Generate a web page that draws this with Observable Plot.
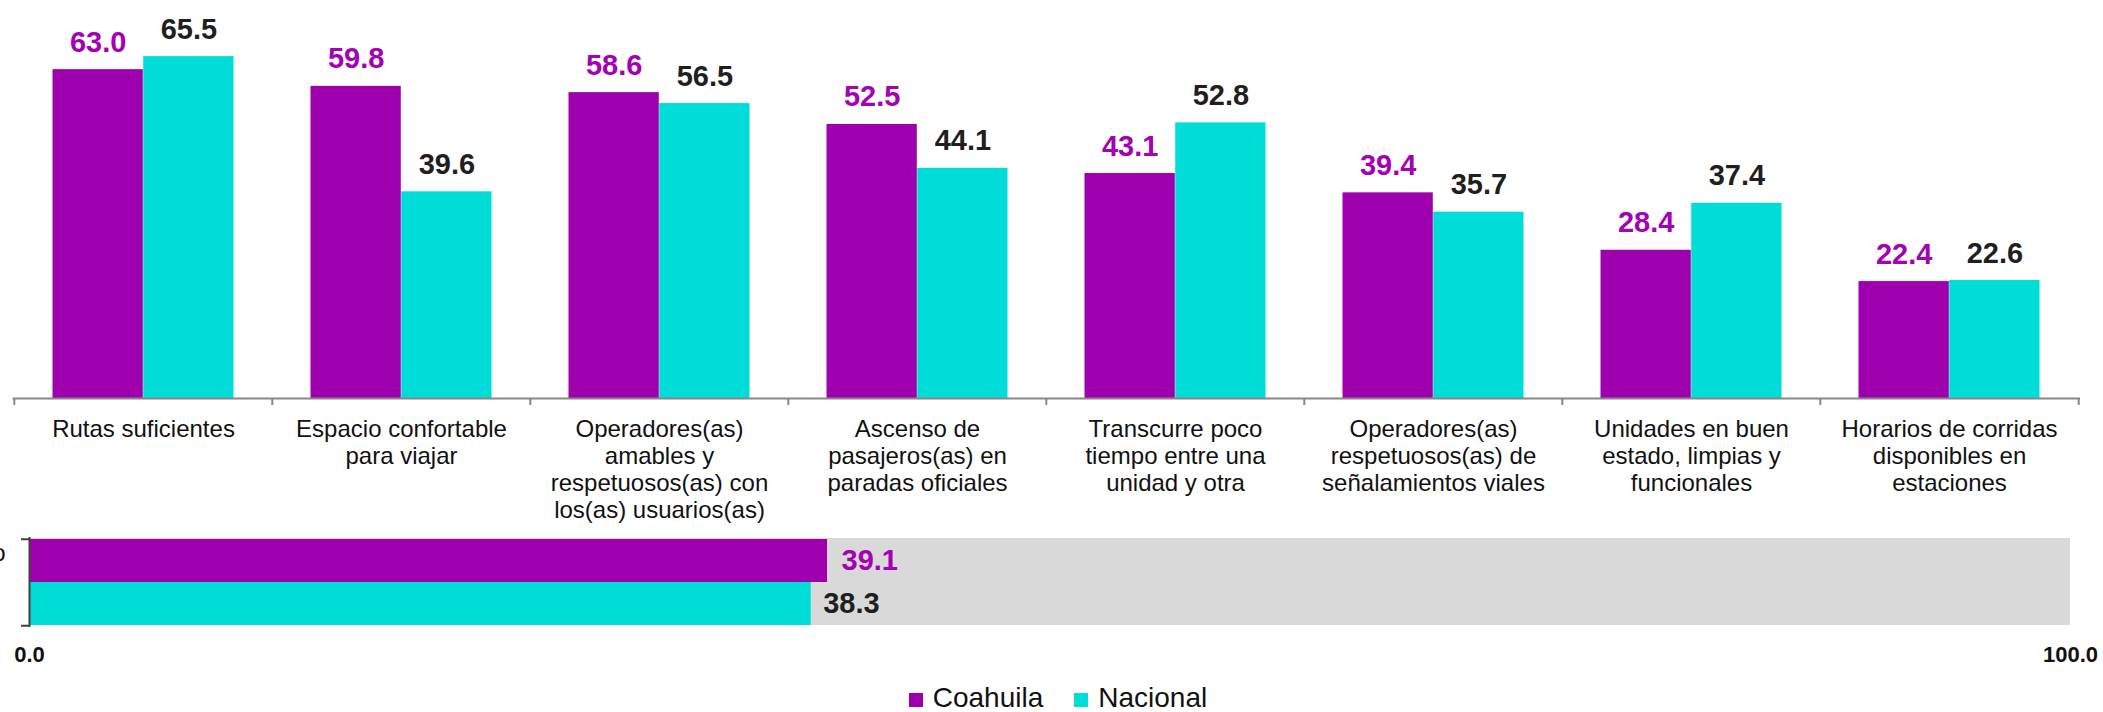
<!DOCTYPE html>
<html>
<head>
<meta charset="utf-8">
<script src="https://cdn.jsdelivr.net/npm/d3@7"></script>
<script src="https://cdn.jsdelivr.net/npm/@observablehq/plot@0.6"></script>
<style>
  html, body { margin: 0; padding: 0; background: #fff; overflow: hidden; }
  #chart { width: 2103px; height: 712px; position: relative; font-family: "Liberation Sans", Arial, sans-serif; }
  #chart svg { display: block; }
  .legend { height: 28px; line-height: 28px; font-size: 28px; color: #111; display: flex; justify-content: center; padding-left: 13px; white-space: nowrap; }
  .legend .item { display: inline-block; }
  .legend .sw { display: inline-block; width: 14px; height: 14px; vertical-align: baseline; margin-right: 10px; }
  .legend .gap { display: inline-block; width: 31px; }
</style>
</head>
<body>
<div id="chart"></div>
<script>
// ---------- data ----------
const categories = [
  "Rutas suficientes",
  "Espacio confortable para viajar",
  "Operadores(as) amables y respetuosos(as) con los(as) usuarios(as)",
  "Ascenso de pasajeros(as) en paradas oficiales",
  "Transcurre poco tiempo entre una unidad y otra",
  "Operadores(as) respetuosos(as) de señalamientos viales",
  "Unidades en buen estado, limpias y funcionales",
  "Horarios de corridas disponibles en estaciones"
];
const tickLabels = [
  "Rutas suficientes",
  "Espacio confortable\npara viajar",
  "Operadores(as)\namables y\nrespetuosos(as) con\nlos(as) usuarios(as)",
  "Ascenso de\npasajeros(as) en\nparadas oficiales",
  "Transcurre poco\ntiempo entre una\nunidad y otra",
  "Operadores(as)\nrespetuosos(as) de\nseñalamientos viales",
  "Unidades en buen\nestado, limpias y\nfuncionales",
  "Horarios de corridas\ndisponibles en\nestaciones"
];
const series = ["Coahuila", "Nacional"];
const coahuila = [63.0, 59.8, 58.6, 52.5, 43.1, 39.4, 28.4, 22.4];
const nacional = [65.5, 39.6, 56.5, 44.1, 52.8, 35.7, 37.4, 22.6];
const summaryLabel = "Promedio";
const summaryValues = [39.1, 38.3];   // Coahuila, Nacional
const summaryTicks = [0, 100];

// ---------- styles ----------
const purple = "#9F00AD";
const teal = "#00DDD8";
const purpleText = "#A400B4";
const darkText = "#1f1f1f";
const font = "'Liberation Sans', Arial, sans-serif";

// ---------- top chart ----------
const W = 2103;
const topH = 530, topMB = 132, topML = 12.7, topMR = 23;
const step = (W - topML - topMR) / categories.length;
const inset = 38.5;
const barW = (step - 2 * inset) / 2;
const off = barW / 2;

const rowsCo = categories.map((c, i) => ({cat: c, serie: series[0], value: coahuila[i]}));
const rowsNa = categories.map((c, i) => ({cat: c, serie: series[1], value: nacional[i]}));
const labelRows = categories.map((c, i) => ({cat: c, label: tickLabels[i]}));

const topChart = Plot.plot({
  width: W, height: topH,
  marginTop: 0, marginBottom: topMB, marginLeft: topML, marginRight: topMR,
  style: {fontFamily: font, background: "white"},
  x: {domain: categories, padding: 0, axis: null},
  y: {domain: [0, 76.25], axis: null},
  marks: [
    Plot.barY(rowsCo, {x: "cat", y: "value", fill: purple, insetLeft: inset, insetRight: inset + barW}),
    Plot.barY(rowsNa, {x: "cat", y: "value", fill: teal, insetLeft: inset + barW, insetRight: inset}),
    Plot.ruleY([0], {stroke: "#878787", strokeWidth: 2}),
    Plot.ruleX(categories, {x: d => d, y1: () => 0, y2: () => 0, insetTop: 7, dx: -step / 2, stroke: "#878787", strokeWidth: 2}),
    Plot.ruleX(categories.slice(-1), {x: d => d, y1: () => 0, y2: () => 0, insetTop: 7, dx: step / 2, stroke: "#878787", strokeWidth: 2}),
    Plot.text(rowsCo, {x: "cat", y: "value", text: d => d.value.toFixed(1), dx: -off, dy: -18, lineAnchor: "bottom", fill: purpleText, fontSize: 29, fontWeight: "bold"}),
    Plot.text(rowsNa, {x: "cat", y: "value", text: d => d.value.toFixed(1), dx: off, dy: -18, lineAnchor: "bottom", fill: darkText, fontSize: 29, fontWeight: "bold"}),
    Plot.text(labelRows, {x: "cat", y: () => 0, text: "label", lineAnchor: "top", dy: 19, lineHeight: 1.125, fontSize: 24, fill: "#111"})
  ]
});

// ---------- bottom chart ----------
const botH = 154, botMT = 8, botMB = 59, botML = 29, botMR = 33;
const bw = (botH - botMT - botMB) / series.length;
const sumRows = series.map((s, i) => ({serie: s, value: summaryValues[i]}));

const bottomChart = Plot.plot({
  width: W, height: botH,
  marginTop: botMT, marginBottom: botMB, marginLeft: botML, marginRight: botMR,
  style: {fontFamily: font, background: "white"},
  x: {domain: [0, 100], axis: null},
  y: {domain: series, padding: 0, axis: null},
  marks: [
    Plot.barX([100], {x: d => d, fill: "#D9D9D9"}),
    Plot.barX(sumRows.slice(0, 1), {y: "serie", x: "value", fill: purple}),
    Plot.barX(sumRows.slice(1), {y: "serie", x: "value", fill: teal}),
    Plot.ruleX([0], {stroke: "#404040", strokeWidth: 2, insetTop: -1, insetBottom: -2}),
    Plot.ruleY(series.slice(0, 1), {y: d => d, x1: () => 0, x2: () => 0, dy: -bw / 2, insetLeft: -8, stroke: "#404040", strokeWidth: 2}),
    Plot.ruleY(series.slice(1), {y: d => d, x1: () => 0, x2: () => 0, dy: bw / 2, insetLeft: -8, stroke: "#404040", strokeWidth: 2}),
    Plot.text(sumRows.slice(0, 1), {y: "serie", x: "value", text: d => d.value.toFixed(1), textAnchor: "start", dx: 14, fill: purpleText, fontSize: 29, fontWeight: "bold"}),
    Plot.text(sumRows.slice(1), {y: "serie", x: "value", text: d => d.value.toFixed(1), textAnchor: "start", dx: 12, fill: darkText, fontSize: 29, fontWeight: "bold"}),
    Plot.text(summaryTicks, {x: d => d, frameAnchor: "bottom", text: d => d.toFixed(1), lineAnchor: "top", dy: 21, fontSize: 22, fontWeight: "bold", fill: "#111"}),
    Plot.text([summaryLabel], {frameAnchor: "left", y: () => series[0], text: d => d, textAnchor: "end", dx: -24, dy: -8, fontSize: 24, fill: "#111"})
  ]
});

// ---------- legend ----------
const legend = document.createElement("div");
legend.className = "legend";
legend.innerHTML =
  `<span class="item"><span class="sw" style="background:${purple}"></span>${series[0]}</span>` +
  `<span class="gap"></span>` +
  `<span class="item"><span class="sw" style="background:${teal}"></span>${series[1]}</span>`;

const root = document.getElementById("chart");
root.append(topChart, bottomChart, legend);
</script>
</body>
</html>
